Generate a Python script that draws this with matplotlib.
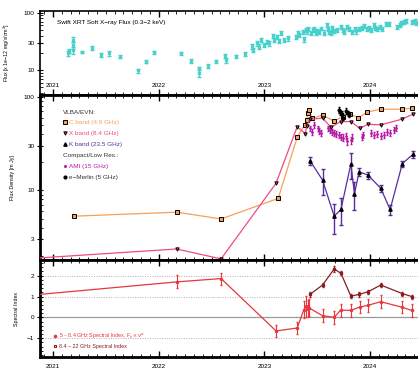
import numpy as np
import matplotlib
matplotlib.use("Agg")
import matplotlib.pyplot as plt
import matplotlib.ticker as ticker
import matplotlib.transforms as mtransforms
from matplotlib.lines import Line2D

plt.rcParams['font.family'] = ['Liberation Sans', 'DejaVu Sans']
plt.rcParams['mathtext.fontset'] = 'dejavusans'

# Swift XRT soft X-ray flux (decimal year, flux, error)
xrt_t = [2021.144, 2021.153, 2021.186, 2021.188, 2021.19, 2021.277, 2021.37, 2021.45,
         2021.53, 2021.63, 2021.80, 2021.88, 2021.96, 2022.214, 2022.305, 2022.38,
         2022.385, 2022.465, 2022.545, 2022.63, 2022.64, 2022.73, 2022.818, 2022.884,
         2022.896, 2022.927, 2022.953, 2022.969, 2023.000, 2023.022, 2023.047, 2023.078,
         2023.094, 2023.116, 2023.142, 2023.158, 2023.189, 2023.22, 2023.299, 2023.314,
         2023.33, 2023.361, 2023.377, 2023.393, 2023.40, 2023.41, 2023.44, 2023.456,
         2023.47, 2023.488, 2023.50, 2023.519, 2023.54, 2023.566, 2023.588, 2023.60,
         2023.607, 2023.629, 2023.64, 2023.66, 2023.69, 2023.724, 2023.74, 2023.755,
         2023.786, 2023.80, 2023.833, 2023.858, 2023.87, 2023.896, 2023.92, 2023.943,
         2023.975, 2023.99, 2024.007, 2024.038, 2024.05, 2024.069, 2024.09, 2024.11,
         2024.148, 2024.179, 2024.258, 2024.28, 2024.29, 2024.321, 2024.34, 2024.399,
         2024.42, 2024.43]
xrt_f = [19.6, 21.5, 34.0, 27.0, 22.0, 20.4, 24.0, 18.3,
         19.6, 17.1, 9.8, 14.0, 20.3, 19.4, 14.5, 8.7,
         10.7, 11.8, 14.2, 17.8, 15.0, 17.3, 18.8, 26.0,
         22.4, 29.2, 25.5, 33.4, 27.3, 31.2, 29.2, 39.0,
         33.4, 38.0, 32.1, 43.7, 33.4, 35.7, 38.0, 44.8,
         40.8, 46.6, 34.3, 49.9, 47.0, 52.0, 44.8, 49.9,
         52.0, 45.0, 49.0, 46.6, 53.0, 45.0, 61.0, 52.0,
         46.6, 44.8, 55.0, 48.0, 50.0, 55.6, 50.0, 46.6,
         57.0, 52.0, 46.6, 51.3, 47.0, 52.6, 55.0, 58.6,
         52.6, 55.0, 49.9, 61.0, 55.0, 52.6, 56.0, 52.0,
         63.5, 63.5, 57.0, 62.0, 66.9, 69.7, 72.0, 69.7,
         72.0, 66.9]
xrt_e = [1.8, 2.0, 3.0, 3.5, 3.0, 1.0, 2.0, 1.5,
         2.0, 1.2, 0.8, 1.0, 1.0, 1.0, 1.0, 1.2,
         0.8, 1.0, 1.0, 1.5, 1.5, 1.0, 1.5, 2.5,
         2.0, 2.5, 2.5, 3.0, 2.5, 2.5, 2.5, 3.0,
         2.5, 3.0, 2.5, 3.5, 3.0, 3.0, 3.0, 3.5,
         3.5, 4.0, 4.0, 4.0, 4.0, 4.0, 3.5, 4.0,
         4.0, 4.0, 4.0, 4.0, 4.0, 4.0, 5.0, 4.0,
         4.0, 4.0, 4.5, 4.0, 4.0, 4.5, 4.0, 4.0,
         4.5, 4.0, 4.0, 4.0, 4.0, 4.0, 4.5, 4.5,
         4.0, 4.5, 4.0, 5.0, 4.5, 4.0, 4.5, 4.0,
         5.0, 5.0, 4.5, 5.0, 5.0, 5.5, 5.5, 5.5,
         5.5, 5.0]

# VLBA/EVN C band (4.9 GHz)
c_t = [2021.20, 2022.17, 2022.59, 2023.13, 2023.31, 2023.38, 2023.40, 2023.41,
       2023.42, 2023.45, 2023.55, 2023.66, 2023.74, 2023.81, 2023.89, 2023.97,
       2024.10, 2024.30, 2024.395]
c_f = [5.3, 5.85, 4.95, 8.2, 37.0, 50.0, 57.0, 67.0,
       73.0, 59.0, 64.0, 55.0, 61.6, 65.8, 59.7, 68.7,
       74.0, 74.0, 75.8]

# VLBA/EVN X band (8.4 GHz)
x_t = [2020.70, 2022.17, 2022.59, 2023.11, 2023.31, 2023.387, 2023.40, 2023.431,
       2023.55, 2023.63, 2023.72, 2023.82, 2023.90, 2023.98, 2024.10, 2024.30,
       2024.406]
x_f = [1.84, 2.36, 1.85, 11.9, 48.0, 40.5, 49.0, 57.8,
       59.3, 47.4, 54.5, 54.5, 46.2, 51.0, 50.2, 57.8,
       65.3]

# VLBA/EVN K band (23.5 GHz)
k_t = [2023.431, 2023.550, 2023.660, 2023.724, 2023.818, 2023.852, 2023.896, 2023.981,
       2024.101, 2024.189, 2024.305, 2024.406]
k_f = [20.8, 12.9, 5.3, 6.25, 19.2, 9.2, 15.8, 14.6, 10.5, 6.25, 19.4, 24.3]
k_e = [2.0, 3.9, 1.9, 2.0, 6.0, 3.0, 1.4, 1.3, 0.8, 0.8, 1.4, 2.0]

# AMI (15 GHz)
ami_t = [2023.431, 2023.45, 2023.47, 2023.503, 2023.512, 2023.535, 2023.604, 2023.620,
         2023.639, 2023.660, 2023.676, 2023.701, 2023.724, 2023.748, 2023.771, 2023.786,
         2023.818, 2023.833, 2023.922, 2023.934, 2024.007, 2024.038, 2024.069, 2024.101,
         2024.132, 2024.163, 2024.189, 2024.226, 2024.242]
ami_f = [46.0, 42.6, 50.0, 46.0, 43.0, 41.5, 46.0, 44.4,
         41.9, 40.9, 39.9, 39.3, 37.6, 36.7, 38.3, 33.8,
         34.7, 36.7, 37.6, 39.3, 40.9, 39.3, 39.9, 38.6,
         39.3, 41.9, 40.9, 44.4, 47.0]
ami_e = [3.0, 3.0, 3.5, 3.0, 3.0, 3.0, 3.0, 3.0,
         3.0, 3.0, 3.0, 3.0, 3.0, 3.0, 3.0, 3.0,
         3.0, 3.0, 3.0, 3.0, 3.0, 3.0, 3.0, 3.0,
         3.0, 3.0, 3.0, 3.5, 3.5]

# e-Merlin (5 GHz)
em_t = [2023.701, 2023.714, 2023.733, 2023.745, 2023.776, 2023.789, 2023.802]
em_f = [72.6, 68.7, 66.0, 60.0, 70.8, 67.0, 65.0]
em_e = [5.0, 4.5, 4.5, 4.0, 5.0, 4.5, 4.5]

# spectral indices
a1_t = [2020.70, 2022.17, 2022.59, 2023.11, 2023.31, 2023.374, 2023.396, 2023.409,
        2023.42, 2023.55, 2023.66, 2023.72, 2023.82, 2023.90, 2023.98, 2024.10,
        2024.30, 2024.395]
a1 = [1.02, 1.70, 1.86, -0.65, -0.51, 0.37, 0.53, 0.41,
      0.46, 0.08, 0.0, 0.34, 0.34, 0.49, 0.58, 0.75,
      0.49, 0.33]
a1_e = [0.3, 0.31, 0.29, 0.3, 0.3, 0.4, 0.5, 0.4,
        0.4, 0.3, 0.3, 0.3, 0.3, 0.3, 0.3, 0.3,
        0.3, 0.3]

a2_t = [2023.431, 2023.55, 2023.66, 2023.724, 2023.818, 2023.896, 2023.981, 2024.101,
        2024.305, 2024.40]
a2 = [1.10, 1.55, 2.32, 2.11, 1.02, 1.10, 1.23, 1.55, 1.14, 0.99]
a2_e = [0.1, 0.1, 0.13, 0.1, 0.1, 0.1, 0.1, 0.1, 0.1, 0.1]

years = [2021, 2022, 2023, 2024]

turq = '#48d1cc'
c_col = '#f5a05a'
x_col = '#ee4b82'
k_col = '#5a2d9e'
ami_col = '#b81aa8'
red = '#e8363d'
dred = '#8b1c1c'

fs = 4.6

fig = plt.figure(figsize=(4.18, 3.71), dpi=100)
left, width = 40 / 418, 1 - 40 / 418
ax1 = fig.add_axes([left, 0.744, width, 0.2275])
ax2 = fig.add_axes([left, 0.2992, width, 0.4448])
ax3 = fig.add_axes([left, 0.0377, width, 0.2615])

xlim = (2020.877, 2024.453)

for ax in (ax1, ax2, ax3):
    ax.set_xlim(*xlim)
    ax.xaxis.set_major_locator(ticker.FixedLocator(years))
    ax.xaxis.set_minor_locator(ticker.MultipleLocator(1 / 12))
    ax.tick_params(axis='x', which='both', direction='in', top=True, bottom=True)
    ax.tick_params(axis='x', which='major', length=4, width=1)
    ax.tick_params(axis='x', which='minor', length=2, width=0.6)
    ax.tick_params(axis='y', which='major', direction='inout', length=5, width=0.8,
                   labelsize=fs, pad=1.5)
    ax.tick_params(axis='y', which='minor', direction='in', length=2, width=0.6)
    ax.spines['right'].set_visible(False)

# --- X-ray panel
ax1.errorbar(xrt_t, xrt_f, yerr=xrt_e, fmt='s', ms=1.4, color=turq, ecolor=turq,
             elinewidth=1.0, capsize=1.4, capthick=1.0, lw=0)
ax1.set_yscale('log')
ax1.set_ylim(3.66, 109)
ax1.yaxis.set_major_locator(ticker.FixedLocator([10, 30, 100]))
ax1.yaxis.set_major_formatter(ticker.FixedFormatter(['10', '30', '100']))
ax1.yaxis.set_minor_formatter(ticker.NullFormatter())
ax1.tick_params(axis='x', labelbottom=False)
for s in ax1.spines.values():
    s.set_linewidth(1.2)
trans1 = mtransforms.blended_transform_factory(ax1.transData, ax1.transAxes)
for yr in years:
    ax1.text(yr, 0.11, str(yr), transform=trans1, ha='center', va='center', fontsize=fs)
ax1.text(0.045, 0.86, 'Swift XRT Soft X\u2212ray Flux (0.3\u22122 keV)', transform=ax1.transAxes,
         fontsize=fs, va='center')
ax1.set_ylabel('Flux [x 1e\u221212 erg/s/cm$^2$]', fontsize=3.8)
ax1.yaxis.set_label_coords(-0.075, 0.5)

# --- radio light curves
ax2.plot(c_t, c_f, '-', color=c_col, lw=0.9, marker='s', ms=2.2, mfc=c_col, mec='black',
         mew=0.7, zorder=3)
ax2.plot(x_t, x_f, '-', color=x_col, lw=0.9, marker='v', ms=2.4, mfc=x_col, mec='black',
         mew=0.7, zorder=3)
ax2.errorbar(k_t, k_f, yerr=k_e, color=k_col, lw=0.9, marker='^', ms=2.4, mfc='black',
             mec='black', ecolor=k_col, elinewidth=1.0, capsize=1.2, zorder=3)
ax2.errorbar(ami_t, ami_f, yerr=ami_e, fmt='o', ms=1.0, color=ami_col, ecolor=ami_col,
             elinewidth=0.9, capsize=0.8, zorder=2)
ax2.errorbar(em_t, em_f, yerr=em_e, fmt='o', ms=1.9, color='black', ecolor='black',
             elinewidth=0.8, capsize=1.0, zorder=4)
ax2.set_yscale('log')
ax2.set_ylim(1.8, 105)
ax2.yaxis.set_major_locator(ticker.FixedLocator([3, 10, 30, 100]))
ax2.yaxis.set_major_formatter(ticker.FixedFormatter(['3', '10', '30', '100']))
ax2.yaxis.set_minor_formatter(ticker.NullFormatter())
ax2.tick_params(axis='x', labelbottom=False)
for s in ax2.spines.values():
    s.set_linewidth(2)
ax2.set_ylabel('Flux Density [m Jy]', fontsize=3.8)
ax2.yaxis.set_label_coords(-0.065, 0.5)

blank = Line2D([], [], lw=0, marker=None)
handles = [blank,
           Line2D([], [], lw=0, marker='s', ms=2.2, mfc=c_col, mec='black', mew=0.7),
           Line2D([], [], lw=0, marker='v', ms=2.4, mfc=x_col, mec='black', mew=0.7),
           Line2D([], [], lw=0, marker='^', ms=2.4, mfc='black', mec='black'),
           blank,
           Line2D([], [], lw=0, marker='o', ms=1.2, color=ami_col),
           Line2D([], [], lw=0, marker='o', ms=2.0, color='black')]
labels = ['VLBA/EVN:', 'C band (4.9 GHz)', 'X band (8.4 GHz)', 'K band (23.5 GHz)',
          'Compact/Low Res.:', 'AMI (15 GHz)', 'e\u2212Merlin (5 GHz)']
leg = ax2.legend(handles, labels, loc='upper left', bbox_to_anchor=(0.055, 0.93),
                 fontsize=fs, frameon=False, handlelength=0.5, handletextpad=0.4,
                 labelspacing=0.85, borderaxespad=0,
                 labelcolor=['#333333', c_col, x_col, k_col, '#333333', ami_col, '#333333'])
for i in (0, 4):
    leg.get_texts()[i].set_x(-6)

# --- spectral index
ax3.axhline(0, color='#9a9a9a', lw=0.9, zorder=1)
for yv in (-1, 1, 2):
    ax3.axhline(yv, color='#b0b0b0', lw=0.7, ls=(0, (1, 1.5)), zorder=1)
ax3.errorbar(a1_t, a1, yerr=a1_e, color=red, lw=0.9, marker='o', ms=1.5,
             ecolor=red, elinewidth=0.8, capsize=0.8, zorder=3)
ax3.errorbar(a2_t, a2, yerr=a2_e, color=dred, lw=0.9, marker='s', ms=1.8,
             ecolor=dred, elinewidth=0.8, capsize=0.8, zorder=3)
ax3.set_ylim(-1.9, 2.75)
ax3.yaxis.set_major_locator(ticker.FixedLocator([-1, 0, 1, 2]))
ax3.yaxis.set_major_formatter(ticker.FixedFormatter(['\u22121', '0', '1', '2']))
ax3.yaxis.set_minor_locator(ticker.MultipleLocator(0.2))
ax3.tick_params(axis='x', labelsize=fs, pad=5)
ax3.set_xticklabels([str(y) for y in years])
for s in ax3.spines.values():
    s.set_linewidth(2)
ax3.set_ylabel('Spectral Index', fontsize=3.8)
ax3.yaxis.set_label_coords(-0.055, 0.5)

h3 = [Line2D([], [], lw=0, marker='o', ms=1.6, color=red),
      Line2D([], [], lw=0, marker='s', ms=2.0, mfc='none', mec=dred, mew=0.8)]
ax3.legend(h3, ['5 \u2013 8.4 GHz Spectral Index, F$_\\nu \\propto \\nu^{\\alpha}$',
                '8.4 \u2013 22 GHz Spectral Index'],
           loc='lower left', bbox_to_anchor=(0.03, 0.06), fontsize=3.9, frameon=False,
           handlelength=0.5, handletextpad=0.5, labelspacing=0.5, borderaxespad=0,
           labelcolor=[red, dred])

fig.savefig('out.png', dpi=100)
